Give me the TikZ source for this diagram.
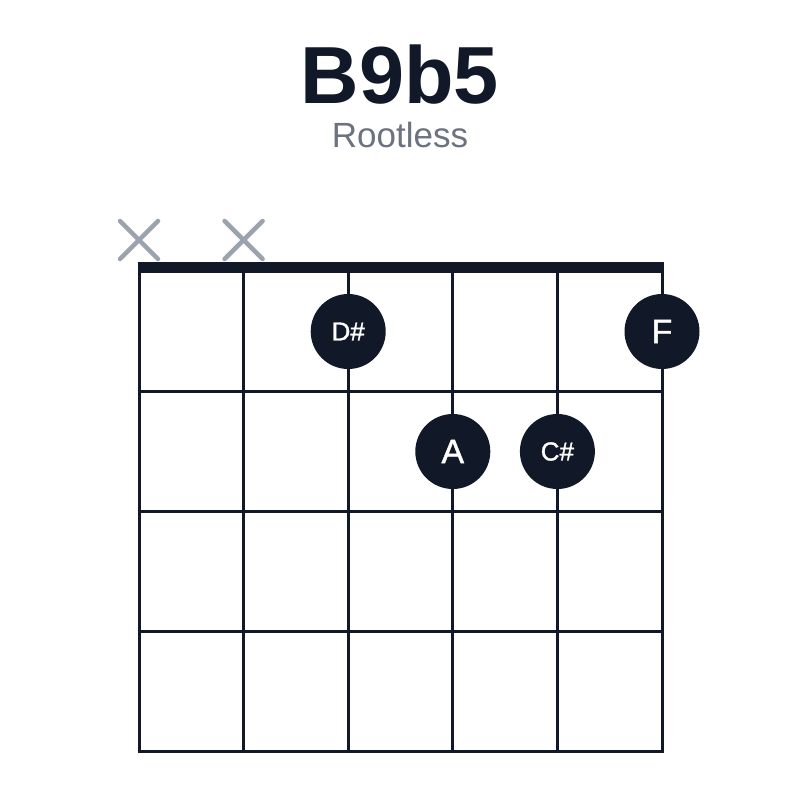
\documentclass[tikz,border=0pt]{standalone}
\usepackage{fontspec}
\setmainfont{Liberation Sans}
\newfontfamily\semifont[FakeBold=1.2]{Liberation Sans}
\definecolor{ink}{HTML}{111827}
\definecolor{sub}{HTML}{6B7280}
\definecolor{mute}{HTML}{9CA3AF}
\begin{document}
\begin{tikzpicture}[x=1pt,y=-1pt,
  gridline/.style={ink,line width=3pt},
  nutline/.style={ink,line width=11pt},
  xmark/.style={mute,line width=4.5pt,line cap=round},
  dot/.style={circle,fill=ink,minimum size=75pt,inner sep=0pt,text=white},
  small/.style={font=\semifont\fontsize{26}{26}\selectfont},
  big/.style={font=\semifont\fontsize{34}{34}\selectfont}]
\useasboundingbox[fill=white] (0,0) rectangle (800,800);
% title
\node[ink,anchor=base,font=\fontsize{81}{81}\selectfont\bfseries] (title) at (400,103) {B9b5};
\node[sub,anchor=base,font=\fontsize{35}{35}\selectfont] (subtitle) at (400,147) {Rootless};
% strings
\foreach \i/\x in {1/139,2/243.6,3/348.2,4/452.8,5/557.4,6/662}{
  \coordinate (s\i t) at (\x,267);
  \coordinate (s\i b) at (\x,753);
  \draw[gridline] (s\i t) -- (s\i b);
}
% frets
\foreach \j/\y in {1/391.5,2/511.5,3/631.5,4/751.5}{
  \coordinate (f\j l) at (137.5,\y);
  \coordinate (f\j r) at (663.5,\y);
  \draw[gridline] (f\j l) -- (f\j r);
}
% nut
\coordinate (nl) at (137.5,267.5);
\coordinate (nr) at (663.5,267.5);
\draw[nutline] (nl) -- (nr);
% muted strings
\foreach \x/\n in {139/a,243.6/b}{
  \coordinate (x\n1) at (\x-19,221);
  \coordinate (x\n2) at (\x+19,259);
  \coordinate (x\n3) at (\x-19,259);
  \coordinate (x\n4) at (\x+19,221);
  \draw[xmark] (x\n1) -- (x\n2);
  \draw[xmark] (x\n3) -- (x\n4);
}
% fingers
\node[dot,small] (dsharp) at (348.2,331.5) {D\#};
\node[dot,big] (f) at (662,331.5) {F};
\node[dot,big] (a) at (452.8,451.5) {A};
\node[dot,small] (csharp) at (557.4,451.5) {C\#};
\end{tikzpicture}
\end{document}
